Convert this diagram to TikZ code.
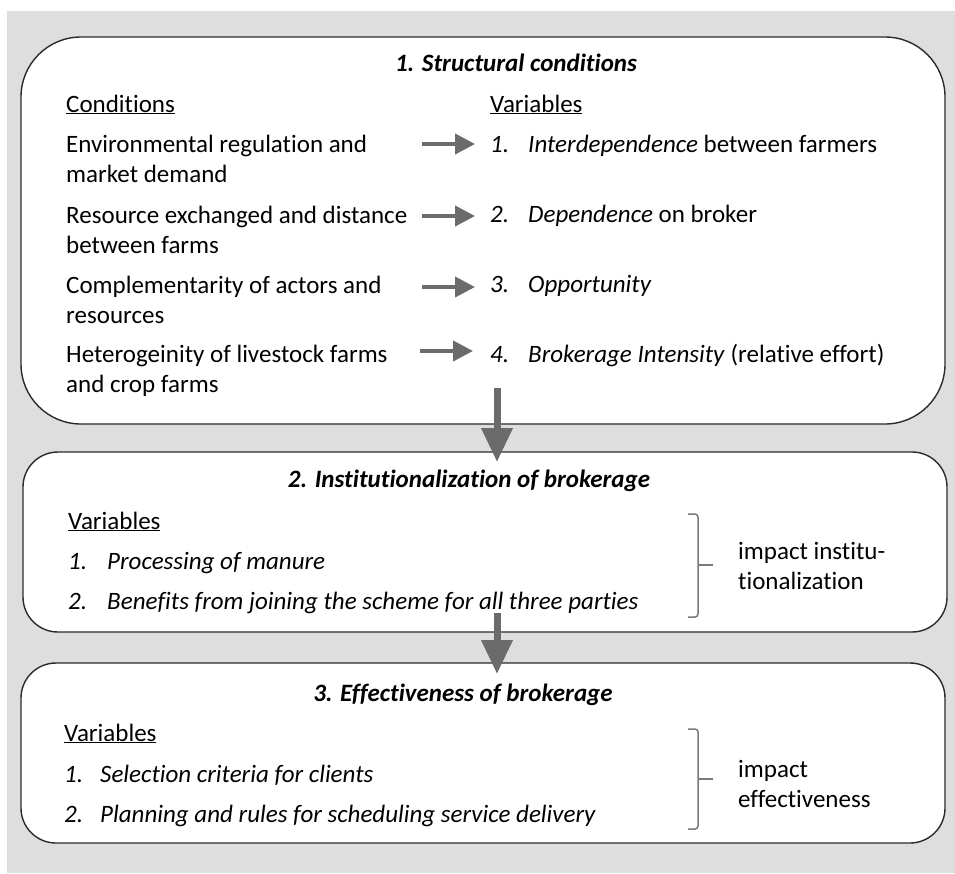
\documentclass[tikz,border=0pt]{standalone}
\usepackage{fontspec}
\setmainfont[Ligatures={NoCommon}]{Carlito}
\usetikzlibrary{arrows.meta}
\definecolor{bggray}{HTML}{DEDEDE}
\definecolor{arrgray}{HTML}{6B6B6B}
\definecolor{edgegray}{HTML}{2B2B2B}
\definecolor{brgray}{HTML}{7A7A7A}
\begin{document}
\begin{tikzpicture}[x=1pt,y=-1pt,
  txt/.style={font=\fontsize{25pt}{30pt}\selectfont, inner sep=0pt, anchor=base west},
  ttl/.style={font=\fontsize{25pt}{30pt}\selectfont\bfseries\itshape, inner sep=0pt, anchor=base},
  boxshape/.style={draw=edgegray, line width=1.4pt, fill=white, inner sep=0pt},
  smallarr/.style={draw=arrgray, line width=4pt, -{Triangle[length=20pt,width=20pt]}},
  bigarr/.style={draw=arrgray, line width=7pt, -{Triangle[length=34pt,width=30pt]}},
  brk/.style={draw=brgray, line width=1.5pt, rounded corners=3pt}]
\useasboundingbox (0,0) rectangle (955,873);
\fill[white] (0,0) rectangle (955,873);
\fill[bggray] (7,11) rectangle (955,873);
% boxes
\node[boxshape, rounded corners=60pt, minimum width=924pt, minimum height=387pt] (b1) at (483,230.5) {};
\node[boxshape, rounded corners=35pt, minimum width=924pt, minimum height=180pt] (b2) at (485,542) {};
\node[boxshape, rounded corners=35pt, minimum width=924pt, minimum height=180pt] (b3) at (483,753) {};
% titles
\node[ttl] (t1) at (516,71) {1. Structural conditions};
\node[ttl] (t2) at (469,487) {2. Institutionalization of brokerage};
\node[ttl] (t3) at (463,701) {3. Effectiveness of brokerage};
% box 1 conditions
\node[txt] (ch) at (66,112) {\underline{Conditions}};
\node[txt] (c1a) at (66,152) {Environmental regulation and};
\node[txt] (c1b) at (66,182) {market demand};
\node[txt] (c2a) at (66,223) {Resource exchanged and distance};
\node[txt] (c2b) at (66,253) {between farms};
\node[txt] (c3a) at (66,293) {Complementarity of actors and};
\node[txt] (c3b) at (66,323) {resources};
\node[txt] (c4a) at (66,362) {Heterogeinity of livestock farms};
\node[txt] (c4b) at (66,392) {and crop farms};
% box 1 variables
\node[txt] (vh) at (490,112) {\underline{Variables}};
\node[txt] (n1) at (490,152) {\itshape 1.};
\node[txt] (v1) at (528,152) {\textit{Interdependence} between farmers};
\node[txt] (n2) at (490,222) {\itshape 2.};
\node[txt] (v2) at (528,222) {\textit{Dependence} on broker};
\node[txt] (n3) at (490,292) {\itshape 3.};
\node[txt] (v3) at (528,292) {\textit{Opportunity}};
\node[txt] (n4) at (490,362) {\itshape 4.};
\node[txt] (v4) at (528,362) {\textit{Brokerage Intensity} (relative effort)};
% small arrows
\coordinate (a1s) at (422,144); \coordinate (a1e) at (475,144);
\coordinate (a2s) at (422,216); \coordinate (a2e) at (475,216);
\coordinate (a3s) at (422,287); \coordinate (a3e) at (475,287);
\coordinate (a4s) at (420,351); \coordinate (a4e) at (473,351);
\draw[smallarr] (a1s) -- (a1e);
\draw[smallarr] (a2s) -- (a2e);
\draw[smallarr] (a3s) -- (a3e);
\draw[smallarr] (a4s) -- (a4e);
% box 2
\node[txt] (vh2) at (68,529) {\underline{Variables}};
\node[txt] (m1) at (68,569) {\itshape 1.};
\node[txt] (w1) at (107,569) {\itshape Processing of manure};
\node[txt] (m2) at (68,609) {\itshape 2.};
\node[txt] (w2) at (107,609) {\itshape Benefits from joining the scheme for all three parties};
\node[txt] (i2a) at (738,559) {impact institu-};
\node[txt] (i2b) at (738,589) {tionalization};
\coordinate (k2t) at (688,514); \coordinate (k2m) at (698,565);
\coordinate (k2r) at (713,565); \coordinate (k2b) at (688,617);
\draw[brk] (k2t) -| (k2m) |- (k2b);
\draw[brk] (k2m) -- (k2r);
% box 3
\node[txt] (vh3) at (64,741) {\underline{Variables}};
\node[txt] (p1) at (64,782) {\itshape 1.};
\node[txt] (q1) at (100,782) {\itshape Selection criteria for clients};
\node[txt] (p2) at (64,822) {\itshape 2.};
\node[txt] (q2) at (100,822) {\itshape Planning and rules for scheduling service delivery};
\node[txt] (i3a) at (738,777) {impact};
\node[txt] (i3b) at (738,807) {effectiveness};
\coordinate (k3t) at (688,729); \coordinate (k3m) at (698,779);
\coordinate (k3r) at (713,779); \coordinate (k3b) at (688,829);
\draw[brk] (k3t) -| (k3m) |- (k3b);
\draw[brk] (k3m) -- (k3r);
% big arrows
\coordinate (d1s) at (497,388); \coordinate (d1e) at (497,462);
\coordinate (d2s) at (497,613); \coordinate (d2e) at (497,674);
\draw[bigarr] (d1s) -- (d1e);
\draw[bigarr] (d2s) -- (d2e);
\end{tikzpicture}
\end{document}
